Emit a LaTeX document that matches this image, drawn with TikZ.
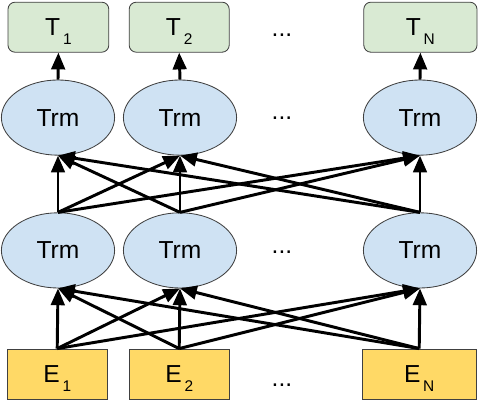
\documentclass[tikz,border=0pt]{standalone}
\usepackage{fontspec}
\setmainfont{Liberation Sans}
\usetikzlibrary{positioning}
\usetikzlibrary{shapes.geometric}
\usetikzlibrary{arrows.meta}
\definecolor{outgreen}{HTML}{D9EAD3}
\definecolor{trmblue}{HTML}{CFE2F3}
\definecolor{embyellow}{HTML}{FFD966}
\definecolor{rim}{HTML}{404040}
\newcommand{\idx}[1]{\kern2pt\raisebox{-0.36em}[0pt][0pt]{\fontsize{11}{12}\selectfont #1}}
\tikzset{
	every node/.style = {font=\fontsize{17.5}{21}\selectfont},
	trm/.style = {ellipse, draw=rim, line width=0.6pt, fill=trmblue, minimum width=2.83cm, minimum height=1.88cm, inner sep=0pt},
	outbox/.style = {rectangle, rounded corners=5pt, draw=rim, line width=0.6pt, fill=outgreen, minimum height=1.25cm, inner sep=0pt},
	embbox/.style = {rectangle, draw=rim, line width=0.6pt, fill=embyellow, minimum height=1.25cm, inner sep=0pt},
	link/.style = {-{Triangle[length=0.42cm, width=0.34cm]}, line width=2.1pt, black}
}
\begin{document}
\begin{tikzpicture}
		\useasboundingbox (0,0) rectangle (12,10);
		% input embeddings
		\node[embbox, minimum width=2.5cm] (e1) at (1.43,0.65) {E\idx{1}};
		\node[embbox, minimum width=2.5cm] (e2) at (4.48,0.65) {E\idx{2}};
		\node[embbox, minimum width=2.85cm] (e3) at (10.48,0.65) {E\idx{N}};
		% transformer layers
		\foreach \i/\x in {1/1.45, 2/4.5, 3/10.5} {
			\node[trm] (a\i) at (\x,3.74) {Trm};
			\node[trm] (b\i) at (\x,7.06) {Trm};
		}
		% outputs
		\node[outbox, minimum width=2.52cm] (t1) at (1.46,9.32) {T\idx{1}};
		\node[outbox, minimum width=2.5cm] (t2) at (4.48,9.32) {T\idx{2}};
		\node[outbox, minimum width=2.83cm] (t3) at (10.51,9.32) {T\idx{N}};
		% connections
		\foreach \i in {1,2,3} \foreach \j in {1,2,3} {
			\draw[link] (e\j.north) -- (a\i.south);
			\draw[link] (a\j.north) -- (b\i.south);
		}
		\foreach \i in {1,2,3}
			\draw[link] (b\i.north) -- (t\i.south);
		% dots
		\foreach \k/\y in {1/9.125, 2/7.05, 3/3.7, 4/0.375}
			\node[inner sep=0pt] (d\k) at (7.05,\y) {...};
	\end{tikzpicture}
\end{document}
